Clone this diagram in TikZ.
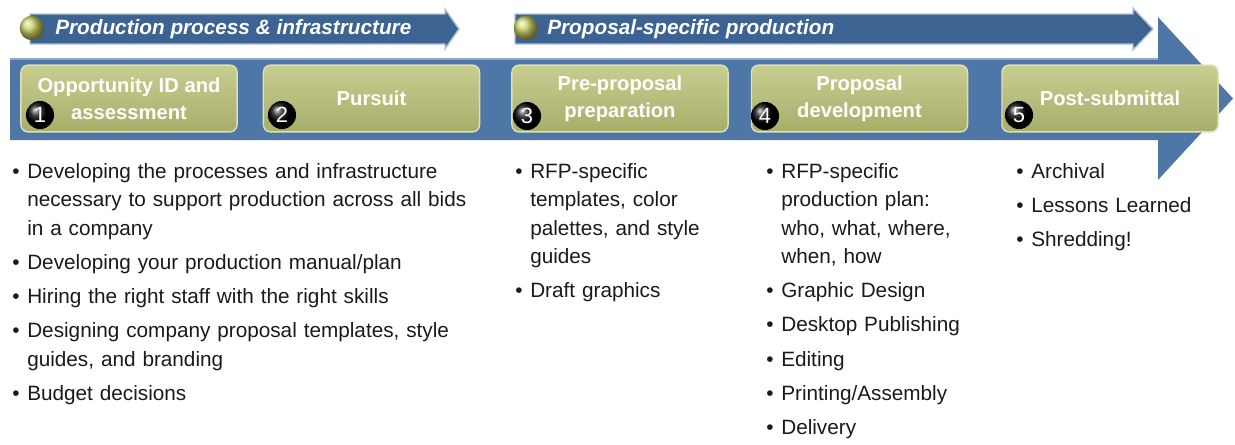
\documentclass[tikz,border=0pt]{standalone}
\usepackage{fontspec}
\setmainfont{Liberation Sans}
\usepackage{tikz}

\definecolor{bandblue}{HTML}{4E76A6}
\definecolor{bandedge}{HTML}{8FA9C8}
\definecolor{phaseblue}{HTML}{3D6393}
\definecolor{phaseedge}{HTML}{B4C4D8}
\definecolor{boxtop}{HTML}{C8CD91}
\definecolor{boxbot}{HTML}{A7AE69}
\definecolor{boxedge}{HTML}{DDE0B8}
\definecolor{ballgreen}{HTML}{C9CF62}
\definecolor{listtext}{HTML}{1A1A1A}

\newcommand{\bitem}[1]{\par\hangindent=8.5pt\hangafter=1\noindent\makebox[8.5pt][l]{\textbullet}#1}
\newcommand{\itemgap}{\setlength{\parskip}{3.2pt}}

\tikzset{
  stepbox/.style={draw=boxedge,line width=0.8pt,rounded corners=4pt,
    top color=boxtop,bottom color=boxbot,minimum width=123pt,minimum height=38pt,
    align=center,text=white,font=\fontsize{11.5}{15.3}\selectfont\bfseries},
  numball/.style={circle,inner sep=0pt,minimum size=16pt,ball color=black,
    text=white,font=\fontsize{12.5}{12.5}\selectfont},
  phaseball/.style={circle,inner sep=0pt,minimum size=14pt,ball color=ballgreen},
  phaselabel/.style={anchor=west,inner sep=0pt,text=white,
    font=\fontsize{11.8}{14}\selectfont\bfseries\itshape},
  itemlist/.style={anchor=north west,inner sep=0pt,align=left,text=listtext,
    font=\fontsize{11.8}{16.2}\selectfont\itemgap}
}

\begin{document}
\begin{tikzpicture}[x=0.02cm,y=-0.02cm]
\useasboundingbox (0,0) rectangle (1235,444);

% main band with the big head
\fill[bandblue] (10,58) -- (1158,58) -- (1158,17) -- (1233,98.5) -- (1158,180)
  -- (1158,140) -- (10,140) -- cycle;
\draw[bandedge,line width=1pt] (10,59) -- (1158,59);

% phase arrows on top
\filldraw[fill=phaseblue,draw=phaseedge,line width=0.8pt] (30,14) -- (445,14) -- (445,9)
  -- (459,29) -- (445,49) -- (445,44) -- (30,44) -- cycle;
\filldraw[fill=phaseblue,draw=phaseedge,line width=0.8pt] (515,14) -- (1133,14) -- (1133,8)
  -- (1153,29) -- (1133,50) -- (1133,44) -- (515,44) -- cycle;
\node[phaseball] (b1) at (32,28) {};
\node[phaseball] (b2) at (526,28) {};
\node[phaselabel] (t1) at (55,29) {Production process \& infrastructure};
\node[phaselabel] (t2) at (547,29) {Proposal-specific production};

% steps
\node[stepbox] (s1) at (129,98.5) {Opportunity ID and\\assessment};
\node[stepbox] (s2) at (371.5,98.5) {Pursuit};
\node[stepbox] (s3) at (620,98.5) {Pre-proposal\\preparation};
\node[stepbox] (s4) at (859.5,98.5) {Proposal\\development};
\node[stepbox] (s5) at (1110,98.5) {Post-submittal};
\node[numball] (n1) at (40,115) {1};
\node[numball] (n2) at (282,115) {2};
\node[numball] (n3) at (527,116) {3};
\node[numball] (n4) at (765,116) {4};
\node[numball] (n5) at (1019,115) {5};

% lists
\node[itemlist,text width=290pt] (l1) at (12,144) {%
  \bitem{Developing the processes and infrastructure\newline necessary to support production across all bids\newline in a company}
  \bitem{Developing your production manual/plan}
  \bitem{Hiring the right staff with the right skills}
  \bitem{Designing company proposal templates, style\newline guides, and branding}
  \bitem{Budget decisions}};
\node[itemlist,text width=130pt] (l3) at (515,144) {%
  \bitem{RFP-specific\newline templates, color\newline palettes, and style\newline guides}
  \bitem{Draft graphics}};
\node[itemlist,text width=130pt] (l4) at (766,144) {%
  \bitem{RFP-specific\newline production plan:\newline who, what, where,\newline when, how}
  \bitem{Graphic Design}
  \bitem{Desktop Publishing}
  \bitem{Editing}
  \bitem{Printing/Assembly}
  \bitem{Delivery}};
\node[itemlist,text width=110pt] (l5) at (1016,144) {%
  \bitem{Archival}
  \bitem{Lessons Learned}
  \bitem{Shredding!}};
\end{tikzpicture}
\end{document}
